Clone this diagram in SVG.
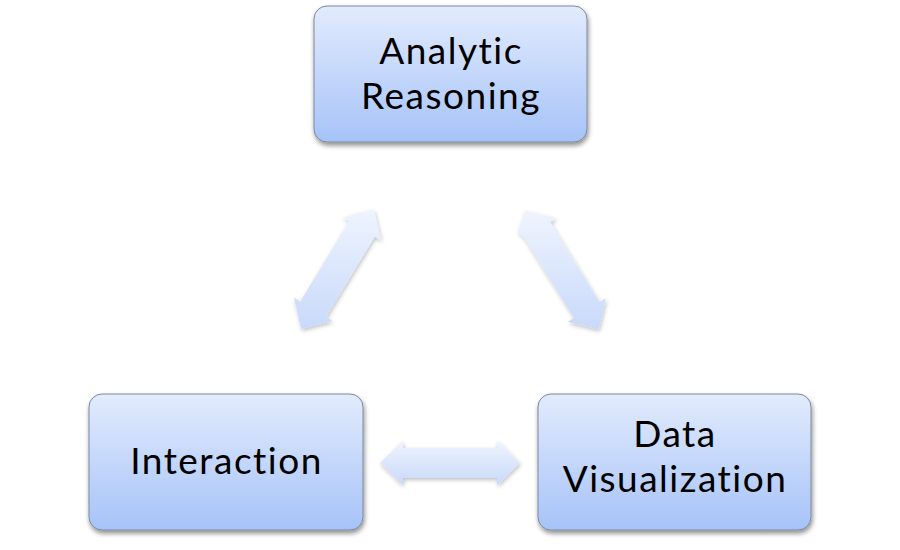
<svg xmlns="http://www.w3.org/2000/svg" width="900" height="550" viewBox="0 0 900 550">
<defs>
<linearGradient id="boxGrad" x1="0" y1="0" x2="0" y2="1">
<stop offset="0" stop-color="#e2ebfd"/>
<stop offset="1" stop-color="#a6c3f8"/>
</linearGradient>
<linearGradient id="arrGrad" x1="0" y1="0" x2="0" y2="1">
<stop offset="0" stop-color="#eff4fe"/>
<stop offset="1" stop-color="#c8d9fa"/>
</linearGradient>
<filter id="shadow" x="-10%" y="-10%" width="125%" height="130%">
<feGaussianBlur in="SourceAlpha" stdDeviation="2.5"/>
<feOffset dx="1" dy="3" result="b"/>
<feComponentTransfer><feFuncA type="linear" slope="0.45"/></feComponentTransfer>
<feMerge><feMergeNode/><feMergeNode in="SourceGraphic"/></feMerge>
</filter>
<filter id="ashadow" x="-15%" y="-15%" width="135%" height="135%">
<feGaussianBlur in="SourceAlpha" stdDeviation="2"/>
<feOffset dx="1" dy="2" result="b"/>
<feComponentTransfer><feFuncA type="linear" slope="0.25"/></feComponentTransfer>
<feMerge><feMergeNode/><feMergeNode in="SourceGraphic"/></feMerge>
</filter>
</defs>
<style>
.box{fill:url(#boxGrad);stroke:#7d899c;stroke-width:1;filter:url(#shadow)}
.arr{fill:url(#arrGrad);stroke:none;filter:url(#ashadow)}
.lbl{font-family:Lato,"Noto Sans","DejaVu Sans",sans-serif;font-size:37px;letter-spacing:1.5px;font-variant-ligatures:none;font-feature-settings:"liga" 0;fill:#000;text-anchor:middle}
</style>
<rect width="900" height="550" fill="#ffffff"/>
<g id="connectors">
<polygon class="arr" points="301.2,328.9 293.9,297.5 300.3,301.4 349.0,221.0 342.6,217.2 373.8,209.2 381.1,240.5 374.7,236.6 326.0,317.0 332.4,320.9"/>
<polygon class="arr" points="525.2,210.4 556.4,218.2 550.1,222.1 599.5,302.1 605.9,298.2 598.8,329.6 567.6,321.8 574.0,317.9 524.5,237.9 518.1,231.8"/>
<polygon class="arr" points="380,463 403,440.5 403,448 497,448 497,440.5 520,463 497,485.5 497,478 403,478 403,485.5"/>
</g>
<g id="analytic-reasoning">
<rect class="box" x="314" y="6" width="273" height="136" rx="13"/>
<text class="lbl" x="451" y="64">Analytic</text>
<text class="lbl" x="451" y="109">Reasoning</text>
</g>
<g id="interaction">
<rect class="box" x="89" y="394" width="274" height="136" rx="13"/>
<text class="lbl" x="226.5" y="474">Interaction</text>
</g>
<g id="data-visualization">
<rect class="box" x="538" y="394" width="273" height="136" rx="13"/>
<text class="lbl" x="675" y="447">Data</text>
<text class="lbl" x="675" y="492">Visualization</text>
</g>
</svg>
